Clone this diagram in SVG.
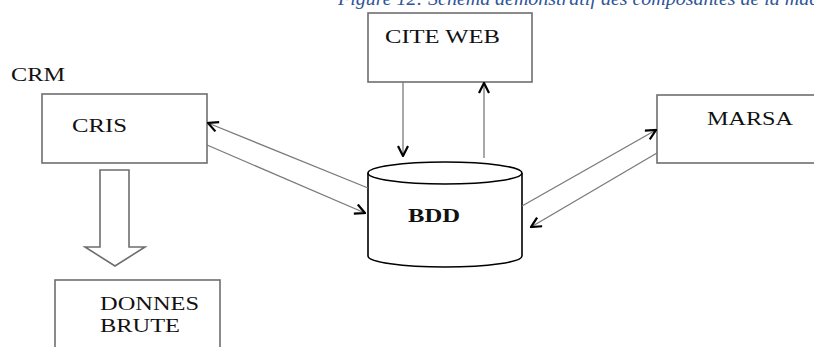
<svg xmlns="http://www.w3.org/2000/svg" width="814" height="347" viewBox="0 0 814 347">
<defs>
<style>
.box{fill:#fff;stroke:#6e6e6e;stroke-width:1.6}
.lbl{font-family:"Liberation Serif","Times New Roman",serif;font-size:18px;fill:#111}
.ln{stroke:#7a7a7a;stroke-width:1.3;fill:none}
.title{font-family:"Liberation Serif","Times New Roman",serif;font-style:italic;font-size:19px;fill:#2f5597}
</style>
<marker id="ah" viewBox="0 0 12 12" refX="11" refY="6" markerWidth="12" markerHeight="12" markerUnits="userSpaceOnUse" orient="auto">
<path d="M1,1 L11,6 L1,11" fill="none" stroke="#000" stroke-width="2.2"/>
</marker>
</defs>
<rect width="814" height="347" fill="#fff"/>
<text class="title" x="338" y="5" textLength="490" lengthAdjust="spacingAndGlyphs">Figure 12: Schéma démonstratif des composantes de la mach</text>
<text class="lbl" x="11" y="81" font-size="15" textLength="54" lengthAdjust="spacingAndGlyphs">CRM</text>
<g id="cris">
<rect class="box" x="42" y="94" width="165" height="69"/>
<text class="lbl" x="72" y="132" textLength="55" lengthAdjust="spacingAndGlyphs">CRIS</text>
</g>
<g id="citeweb">
<rect class="box" x="368" y="13" width="164" height="69"/>
<text class="lbl" x="385" y="43" textLength="115" lengthAdjust="spacingAndGlyphs">CITE WEB</text>
</g>
<g id="marsa">
<rect class="box" x="657" y="95" width="170" height="68"/>
<text class="lbl" x="707" y="125" textLength="86" lengthAdjust="spacingAndGlyphs">MARSA</text>
</g>
<g id="bdd">
<path d="M368,173 L368,256 A77,11 0 0 0 522,256 L522,173" fill="#fff" stroke="#000" stroke-width="1.6"/>
<ellipse cx="445" cy="173" rx="77" ry="11" fill="#fff" stroke="#000" stroke-width="1.6"/>
<text class="lbl" x="408" y="222" font-weight="bold" font-size="19" textLength="52" lengthAdjust="spacingAndGlyphs">BDD</text>
</g>
<g id="donnes">
<rect class="box" x="55" y="280" width="165" height="80"/>
<text class="lbl" x="100" y="310" textLength="99" lengthAdjust="spacingAndGlyphs">DONNES</text>
<text class="lbl" x="100" y="332" textLength="80" lengthAdjust="spacingAndGlyphs">BRUTE</text>
</g>
<g id="connectors">
<line class="ln" x1="403" y1="82" x2="403" y2="156" marker-end="url(#ah)"/>
<line class="ln" x1="484" y1="158" x2="484" y2="83" marker-end="url(#ah)"/>
<line class="ln" x1="368" y1="188" x2="208" y2="123" marker-end="url(#ah)"/>
<line class="ln" x1="207" y1="145" x2="365" y2="213" marker-end="url(#ah)"/>
<line class="ln" x1="522" y1="206" x2="656" y2="130" marker-end="url(#ah)"/>
<line class="ln" x1="657" y1="153" x2="531" y2="227" marker-end="url(#ah)"/>
<path d="M100,170 L129,170 L129,247 L145,247 L115,266 L85,247 L100,247 Z" fill="#fff" stroke="#6e6e6e" stroke-width="1.6"/>
</g>
</svg>
